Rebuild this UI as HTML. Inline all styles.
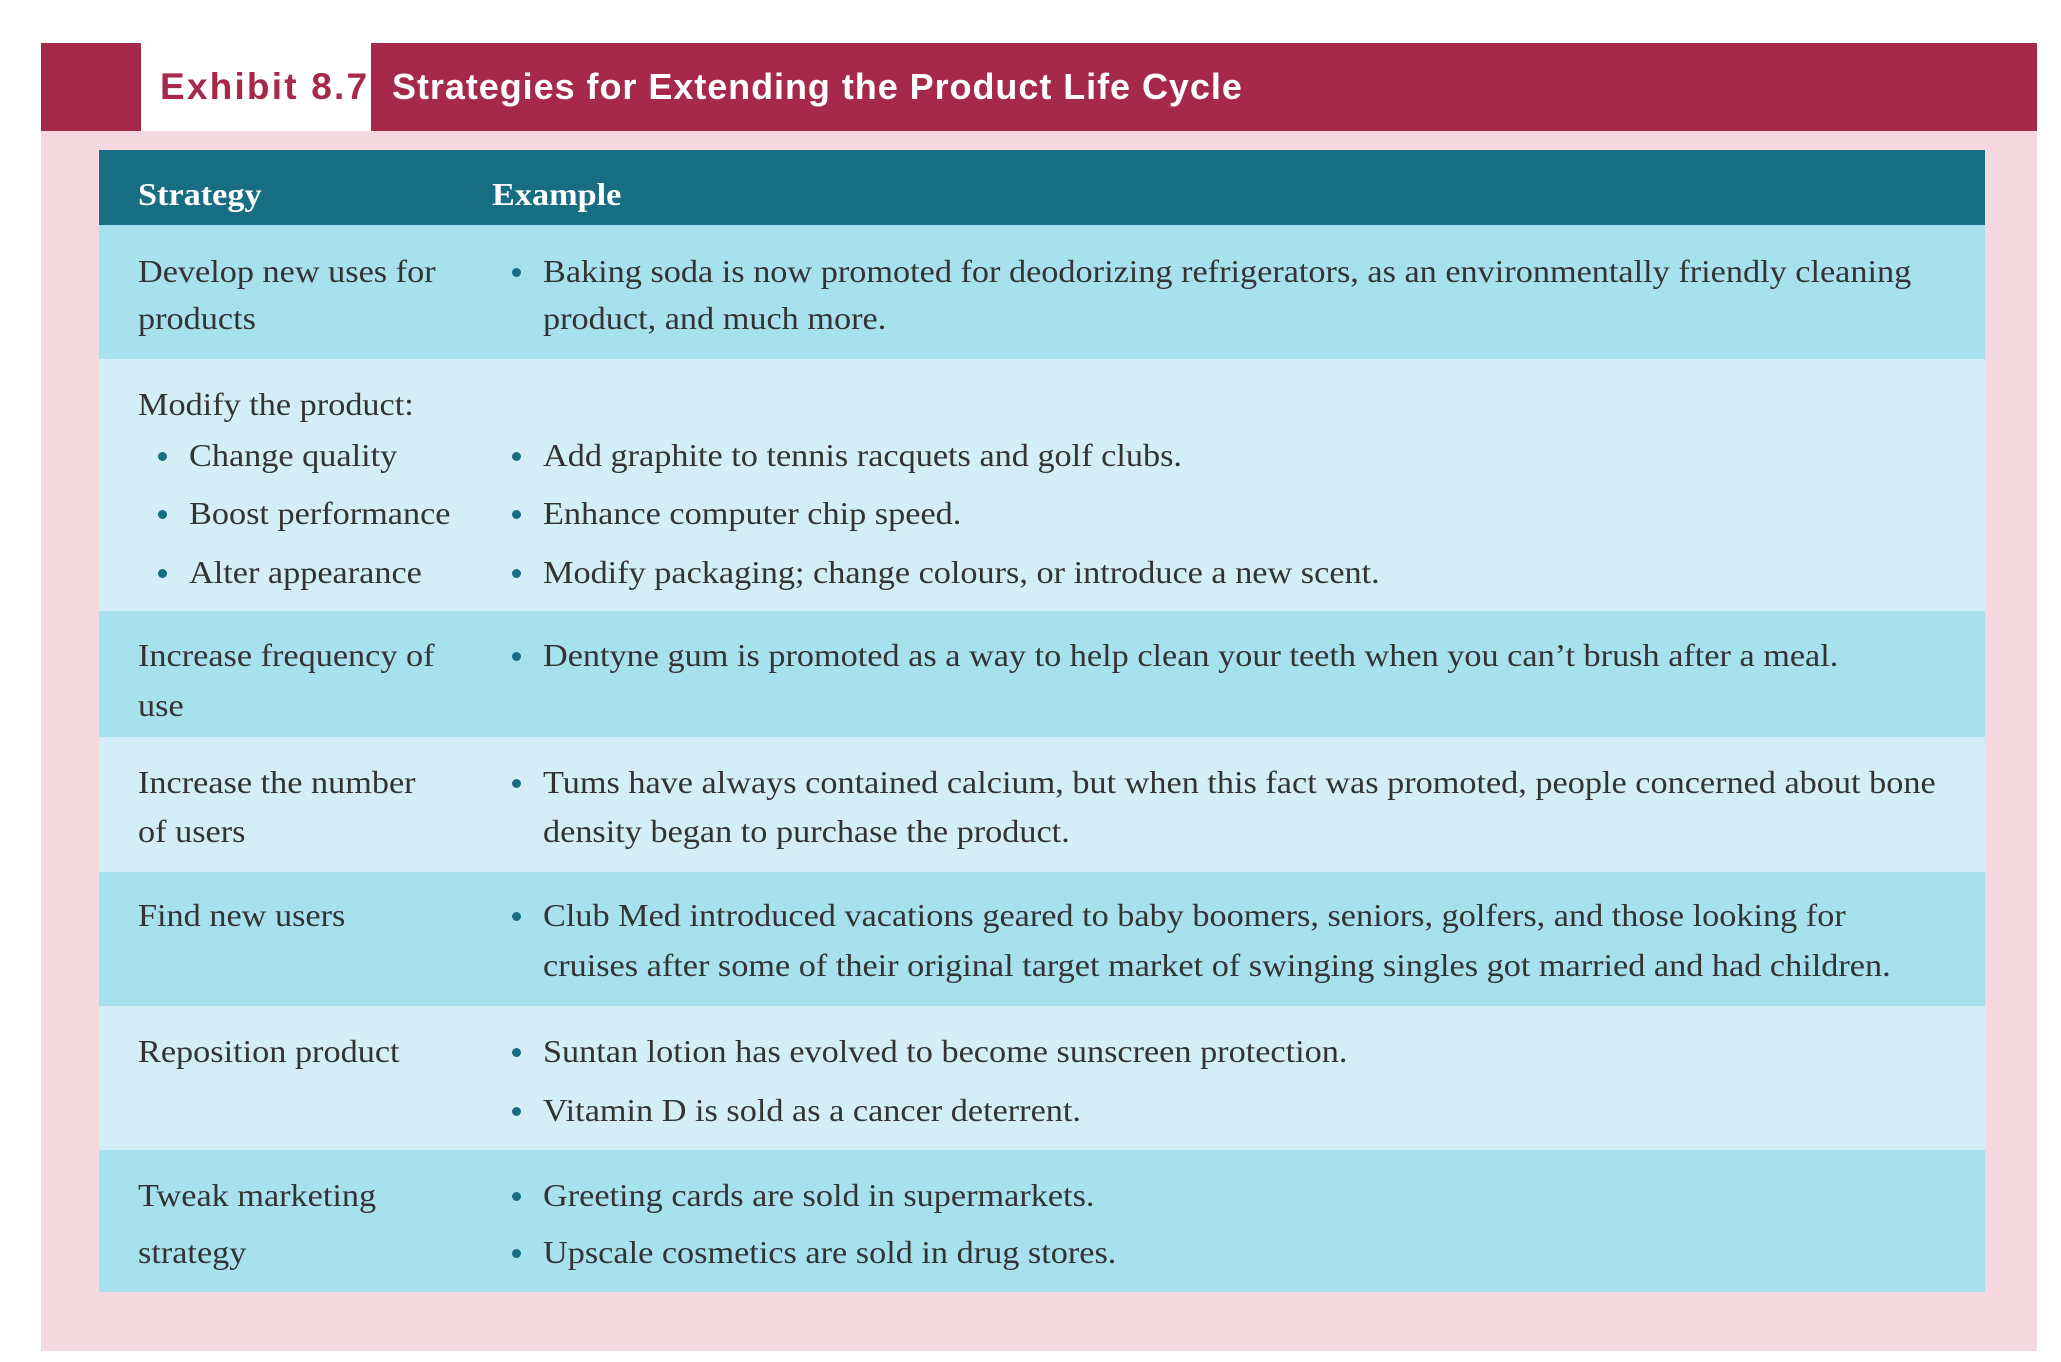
<!DOCTYPE html>
<html><head><meta charset="utf-8"><style>
body{margin:0;width:2061px;height:1362px;background:#fff;position:relative;overflow:hidden}
.a{position:absolute}
.t{position:absolute;font-family:"Liberation Serif",serif;font-size:32px;color:#333;line-height:40px;white-space:nowrap;transform:scaleX(1.07);transform-origin:0 50%}
.b{position:absolute;width:9px;height:9px;border-radius:50%;background:#176D82}
</style></head><body>
<div class="a" style="left:41px;top:43px;width:1996px;height:1308px;background:#F6D9E0"></div>
<div class="a" style="left:41px;top:43px;width:1996px;height:88px;background:#A6294A"></div>
<div class="a" style="left:141px;top:43px;width:230px;height:88px;background:#fff"></div>
<div class="a" style="left:160px;top:65px;font-family:'Liberation Sans',sans-serif;font-weight:bold;font-size:37px;letter-spacing:2.2px;color:#A6294A;line-height:44px">Exhibit 8.7</div>
<div class="a" style="left:392px;top:65px;font-family:'Liberation Sans',sans-serif;font-weight:bold;font-size:36px;letter-spacing:0.95px;color:#fff;line-height:44px">Strategies for Extending the Product Life Cycle</div>
<div class="a" style="left:99px;top:150px;width:1886px;height:75px;background:#176D82"></div>
<div class="t" style="left:138px;top:174px;color:#fff;font-weight:bold">Strategy</div>
<div class="t" style="left:492px;top:174px;color:#fff;font-weight:bold">Example</div>
<div id="rows"></div>
<script>
const rowTops=[225,359,611,737,872,1006,1150,1292];
const root=document.getElementById('rows');
for(let i=0;i<7;i++){
 const r=document.createElement('div');
 r.className='a';
 
 
 r.style.cssText=`left:99px;top:${rowTops[i]}px;width:1886px;height:${rowTops[i+1]-rowTops[i]}px;background:${i%2?'#D3EEF6':'#A7E1EE'}`;
 root.appendChild(r);
}
const lines=[
[138,272,"Develop new uses for",0],[138,319,"products",0],
[543,272,"Baking soda is now promoted for deodorizing refrigerators, as an environmentally friendly cleaning",1],[543,319,"product, and much more.",0],
[138,405,"Modify the product:",0],
[189,456,"Change quality",1],[189,514,"Boost performance",1],[189,573,"Alter appearance",1],
[543,456,"Add graphite to tennis racquets and golf clubs.",1],[543,514,"Enhance computer chip speed.",1],[543,573,"Modify packaging; change colours, or introduce a new scent.",1],
[138,656,"Increase frequency of",0],[138,706,"use",0],
[543,656,"Dentyne gum is promoted as a way to help clean your teeth when you can\u2019t brush after a meal.",1],
[138,783,"Increase the number",0],[138,832,"of users",0],
[543,783,"Tums have always contained calcium, but when this fact was promoted, people concerned about bone",1],[543,832,"density began to purchase the product.",0],
[138,916,"Find new users",0],
[543,916,"Club Med introduced vacations geared to baby boomers, seniors, golfers, and those looking for",1],[543,966,"cruises after some of their original target market of swinging singles got married and had children.",0],
[138,1052,"Reposition product",0],
[543,1052,"Suntan lotion has evolved to become sunscreen protection.",1],[543,1111,"Vitamin D is sold as a cancer deterrent.",1],
[138,1196,"Tweak marketing",0],[138,1253,"strategy",0],
[543,1196,"Greeting cards are sold in supermarkets.",1],[543,1253,"Upscale cosmetics are sold in drug stores.",1]
];
lines.forEach((l,i)=>{
 const d=document.createElement('div');
 d.className='t';
 
 
 d.style.left=l[0]+'px';d.style.top=(l[1]-21)+'px';
 d.textContent=l[2];
 root.appendChild(d);
 if(l[3]){
  const b=document.createElement('div');
  b.className='b';
  
  
  b.style.left=(l[0]-31)+'px';b.style.top=(l[1]-4)+'px';
  root.appendChild(b);
 }
});
</script>
</body></html>
